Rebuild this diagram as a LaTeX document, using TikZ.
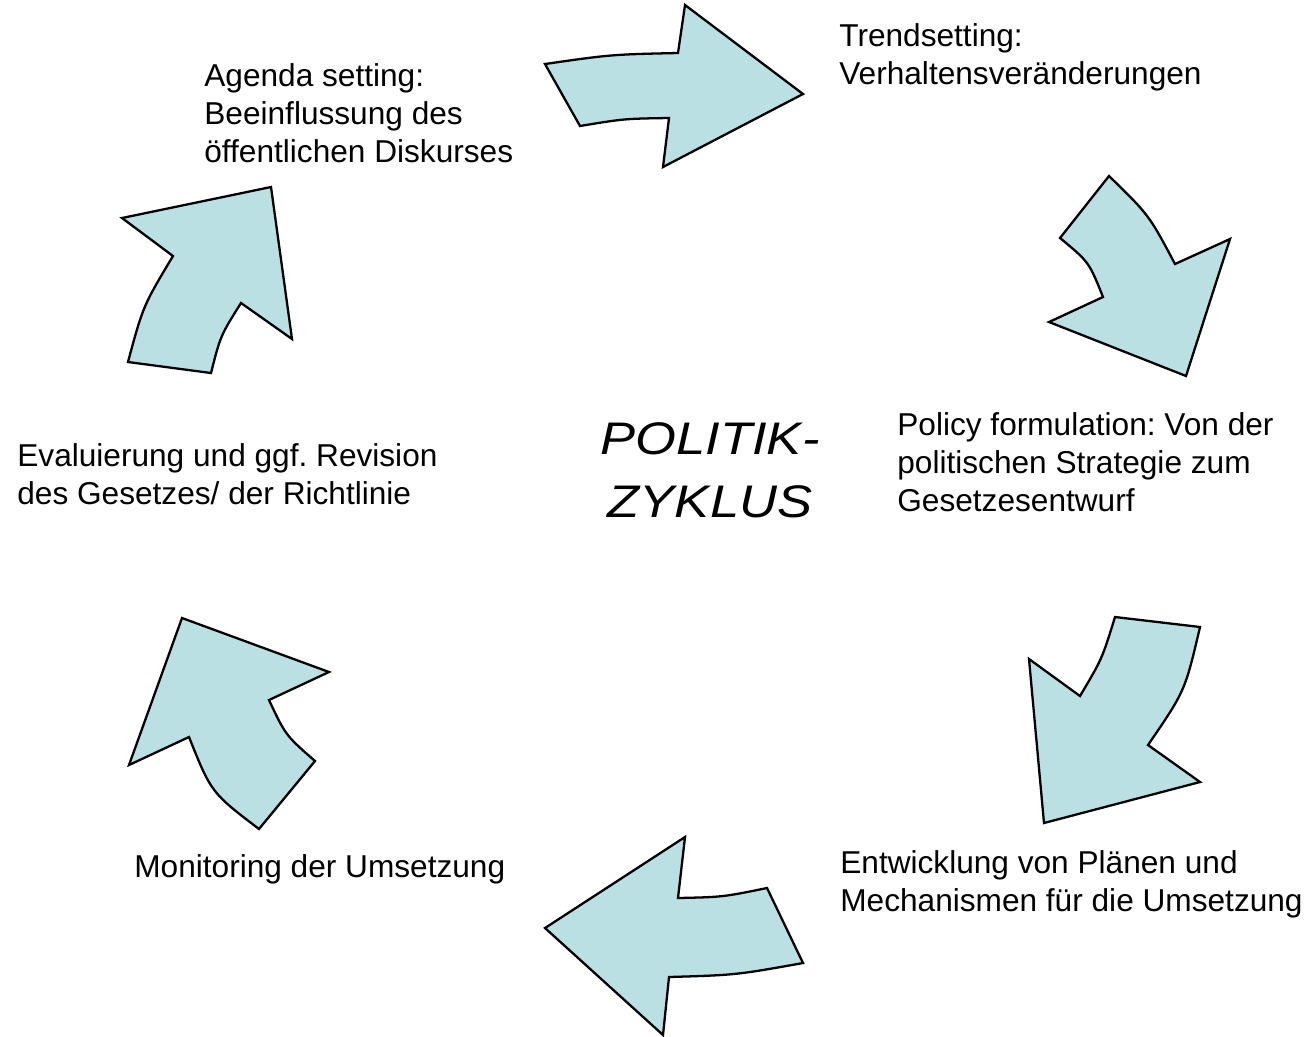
\documentclass[tikz,border=0pt]{standalone}
\usepackage{fontspec}
\setmainfont{Liberation Sans}
\frenchspacing
\definecolor{pfeil}{RGB}{187,224,227}

\begin{document}
\begin{tikzpicture}[x=0.02cm, y=-0.02cm,
  pfeil/.style={draw=black, line width=1.3pt, fill=pfeil},
  txt/.style={anchor=base west, inner sep=0pt, align=left, font=\fontsize{18}{21.6}\selectfont}]
\useasboundingbox (0,0) rectangle (1308,1036);

% the six bent arrows of the cycle
\draw[pfeil] (545,64) .. controls (611,54.5) .. (678,53) -- (685,5) -- (803,94)
  -- (663,167) -- (669,118) .. controls (624,118.7) .. (580,126) -- cycle;
\draw[pfeil] (1109,176) .. controls (1149,215) .. (1175,264) -- (1230,239) -- (1186,376)
  -- (1049,322) -- (1103,297) .. controls (1089,262) .. (1060,238) -- cycle;
\draw[pfeil] (1115,617) -- (1200,627) .. controls (1185,691) .. (1148,745) -- (1200,782)
  -- (1044,823) -- (1029,659) -- (1080,696) .. controls (1102,659) .. cycle;
\draw[pfeil] (685,837) -- (678,898) .. controls (723,897) .. (767,888) -- (803,963)
  .. controls (736,975) .. (669,977) -- (663,1035) -- (545,928) -- cycle;
\draw[pfeil] (182,618) -- (329,672) -- (269,700) .. controls (285.6,735.3) .. (315,761)
  -- (259,829) .. controls (211.3,792.7) .. (189,737) -- (129,765) -- cycle;
\draw[pfeil] (122,218) -- (271,187) -- (292,339) -- (241,303) .. controls (220.5,335.6) .. (211,373)
  -- (128,362) .. controls (143.1,305.9) .. (173,256) -- cycle;

% stages (anchored at the baseline of the last line)
\node[txt] (agenda) at (204,162) {Agenda setting:\\Beeinflussung des\\öffentlichen Diskurses};
\node[txt] (trend) at (839,84) {Trendsetting:\\Verhaltensveränderungen};
\node[txt] (policy) at (897,511) {Policy formulation: Von der\\politischen Strategie zum\\Gesetzesentwurf};
\node[txt] (plaene) at (840,911) {Entwicklung von Plänen und\\Mechanismen für die Umsetzung};
\node[txt] (monitoring) at (134,877) {Monitoring der Umsetzung};
\node[txt] (evaluierung) at (17,504) {Evaluierung und ggf. Revision\\des Gesetzes/ der Richtlinie};

\node[anchor=base, inner sep=0pt, align=center, xscale=1.15,
  font=\fontsize{26}{35.3}\selectfont\itshape] (zyklus) at (710,517) {POLITIK-\\ZYKLUS};
\end{tikzpicture}
\end{document}
